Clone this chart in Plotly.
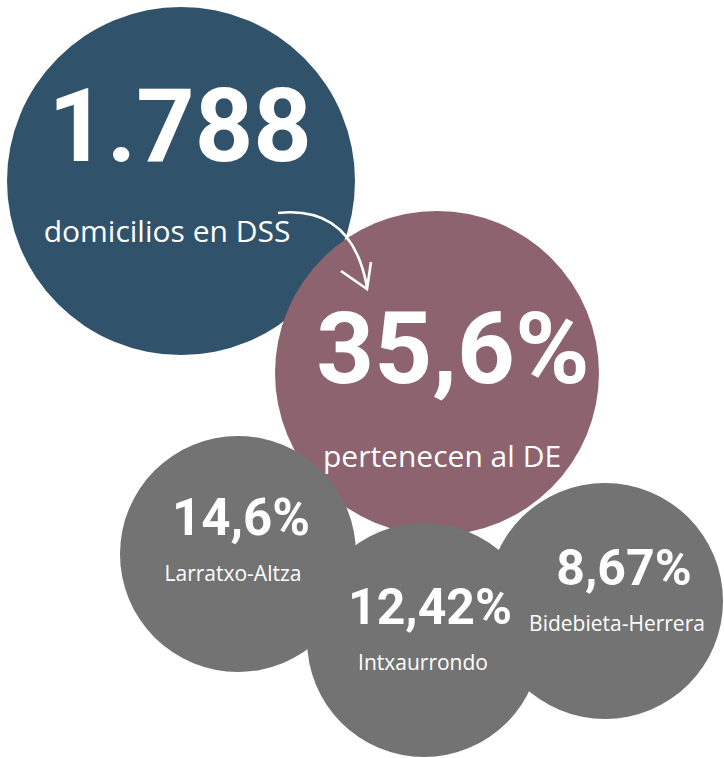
import plotly.graph_objects as go

# ---- data ----
big_values = ["1.788", "35,6%"]
big_captions = ["domicilios en DSS", "pertenecen al DE"]
district_values = ["14,6%", "12,42%", "8,67%"]
district_names = ["Larratxo-Altza", "Intxaurrondo", "Bidebieta-Herrera"]

# ---- layout geometry (pixels, y downward) ----
W, H = 724, 758
circle_cx = [181, 437, 238, 605, 424]
circle_cy = [181, 373, 554, 601, 640]
circle_r = [174, 162, 118, 118, 117]
circle_col = ["#30536B", "#8C636F", "#737373", "#737373", "#737373"]

big_val_xy = [(180, 135), (453, 358)]
big_val_size = [102, 101]
big_cap_xy = [(167, 234), (442, 459)]
dist_val_xy = [(241, 522), (430, 611), (624, 572)]
dist_val_size = [51, 50, 50]
dist_cap_xy = [(233, 576), (423, 665), (617, 626)]

fig = go.Figure()

shapes = []
for cx, cy, r, c in zip(circle_cx, circle_cy, circle_r, circle_col):
    shapes.append(dict(type="circle", xref="x", yref="y",
                       x0=cx - r, x1=cx + r, y0=cy - r, y1=cy + r,
                       fillcolor=c, line=dict(width=0), layer="below"))

# curved arrow from caption to the second circle
shapes.append(dict(type="path", xref="x", yref="y",
                   path="M 278 213 Q 352 205 367 287",
                   line=dict(color="white", width=2.6), layer="above"))
shapes.append(dict(type="path", xref="x", yref="y",
                   path="M 341 271 L 367 289 L 371 262",
                   line=dict(color="white", width=2.6), layer="above"))

fig.add_trace(go.Scatter(
    x=[p[0] for p in big_val_xy], y=[p[1] for p in big_val_xy],
    mode="text", text=big_values, textposition="middle center",
    textfont=dict(family="Roboto", size=big_val_size, color="white", weight=700),
    hoverinfo="skip", showlegend=False))
fig.add_trace(go.Scatter(
    x=[p[0] for p in big_cap_xy], y=[p[1] for p in big_cap_xy],
    mode="text", text=big_captions, textposition="middle center",
    textfont=dict(family="Open Sans", size=30, color="white"),
    hoverinfo="skip", showlegend=False))
fig.add_trace(go.Scatter(
    x=[p[0] for p in dist_val_xy], y=[p[1] for p in dist_val_xy],
    mode="text", text=district_values, textposition="middle center",
    textfont=dict(family="Roboto", size=dist_val_size, color="white", weight=700),
    hoverinfo="skip", showlegend=False))
fig.add_trace(go.Scatter(
    x=[p[0] for p in dist_cap_xy], y=[p[1] for p in dist_cap_xy],
    mode="text", text=district_names, textposition="middle center",
    textfont=dict(family="Open Sans", size=21, color="white"),
    hoverinfo="skip", showlegend=False))

fig.update_layout(
    width=W, height=H,
    margin=dict(l=0, r=0, t=0, b=0),
    paper_bgcolor="white", plot_bgcolor="white",
    shapes=shapes,
    xaxis=dict(range=[0, W], visible=False, fixedrange=True),
    yaxis=dict(range=[H, 0], visible=False, fixedrange=True),
)

fig.write_html(
    "out.html",
    config=dict(displayModeBar=False),
    post_script="document.body.style.margin='0';document.body.style.overflow='hidden';",
)
